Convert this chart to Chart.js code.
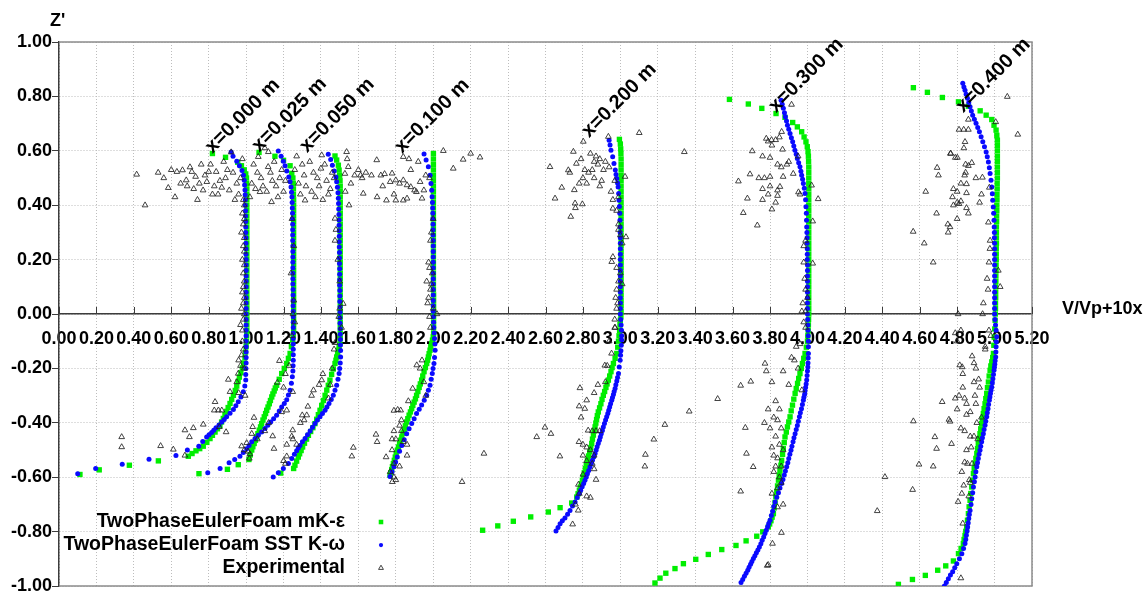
<!DOCTYPE html>
<html>
<head>
<meta charset="utf-8">
<script src="https://cdn.jsdelivr.net/npm/chart.js@4.4.1/dist/chart.umd.min.js"></script>
<style>
  html, body { margin: 0; padding: 0; background: #ffffff; }
  #wrap { width: 1143px; height: 591px; position: relative; }
</style>
</head>
<body>
<div id="wrap"><canvas id="c" width="1143" height="591"></canvas></div>
<script>
// Velocity profiles V/Vp + 10x versus Z' at seven stations.
// Each pair is [V/Vp + 10x, Z'].

const profileNames = ['x=0.000 m', 'x=0.025 m', 'x=0.050 m', 'x=0.100 m', 'x=0.200 m', 'x=0.300 m', 'x=0.400 m'];
// where each station label starts, in chart units
const profileLabelAt = [[0.82, 0.588], [1.07, 0.593], [1.326, 0.591], [1.833, 0.588], [2.833, 0.646], [3.832, 0.738], [4.832, 0.738]];

const xTicks = { min: 0, max: 5.2, step: 0.2 };
const yTicks = { min: -1, max: 1, step: 0.2 };

// ---- TwoPhaseEulerFoam mK-epsilon ----
const mkeX000 = [
[0.82,0.59],[0.89,0.576],[0.955,0.558],[0.975,0.545],[0.99,0.53],[0.998,0.515],[1.002,0.5],[1.003,0.48],
[1.004,0.46],[1.004,0.44],[1.004,0.42],[1.004,0.4],[1.004,0.38],[1.004,0.36],[1.004,0.34],[1.004,0.32],
[1.004,0.3],[1.004,0.28],[1.004,0.26],[1.004,0.24],[1.004,0.22],[1.004,0.2],[1.004,0.18],[1.004,0.16],
[1.004,0.14],[1.004,0.12],[1.004,0.1],[1.004,0.08],[1.004,0.06],[1.004,0.04],[1.004,0.02],[1.004,0],
[1.004,-0.02],[1.004,-0.04],[1.004,-0.06],[1.003,-0.08],[1.002,-0.1],[1,-0.12],[0.997,-0.14],[0.994,-0.16],
[0.987,-0.18],[0.98,-0.198],[0.972,-0.216],[0.964,-0.232],[0.957,-0.248],[0.95,-0.265],[0.942,-0.281],
[0.932,-0.299],[0.923,-0.314],[0.914,-0.329],[0.904,-0.344],[0.895,-0.358],[0.887,-0.37],[0.878,-0.384],
[0.869,-0.397],[0.86,-0.41],[0.847,-0.422],[0.834,-0.434],[0.82,-0.446],[0.807,-0.458],[0.79,-0.472],
[0.771,-0.486],[0.752,-0.495],[0.732,-0.503],[0.711,-0.513],[0.691,-0.523],[0.531,-0.54],[0.376,-0.556],
[0.215,-0.573],[0.112,-0.59]];

const mkeX025 = [
[1.069,0.594],[1.154,0.58],[1.2,0.565],[1.235,0.545],[1.244,0.517],[1.25,0.5],[1.252,0.48],
[1.253,0.46],[1.253,0.44],[1.254,0.42],[1.254,0.4],[1.254,0.38],[1.254,0.36],[1.254,0.34],[1.254,0.32],
[1.254,0.3],[1.254,0.28],[1.254,0.26],[1.254,0.24],[1.254,0.22],[1.254,0.2],[1.254,0.18],[1.254,0.16],
[1.254,0.14],[1.254,0.12],[1.254,0.1],[1.254,0.08],[1.254,0.06],[1.254,0.04],[1.254,0.02],[1.254,0],
[1.254,-0.02],[1.254,-0.04],[1.254,-0.06],[1.252,-0.08],[1.249,-0.096],[1.242,-0.12],[1.235,-0.145],
[1.226,-0.163],[1.217,-0.182],[1.204,-0.2],[1.19,-0.219],[1.177,-0.24],[1.163,-0.262],[1.156,-0.272],
[1.15,-0.283],[1.143,-0.294],[1.137,-0.305],[1.13,-0.318],[1.124,-0.33],[1.117,-0.342],[1.11,-0.354],
[1.104,-0.366],[1.097,-0.378],[1.09,-0.39],[1.083,-0.403],[1.077,-0.415],[1.07,-0.427],[1.063,-0.44],
[1.056,-0.452],[1.05,-0.464],[1.043,-0.476],[1.036,-0.488],[1.03,-0.5],[1.022,-0.518],[1.015,-0.535],
[0.958,-0.554],[0.9,-0.571],[0.748,-0.587]];

const mkeX050 = [
[1.475,0.581],[1.484,0.566],[1.493,0.547],[1.497,0.529],[1.5,0.51],[1.502,0.49],
[1.503,0.47],[1.503,0.45],[1.503,0.43],[1.503,0.41],[1.503,0.39],[1.503,0.37],[1.503,0.35],[1.503,0.33],
[1.503,0.31],[1.503,0.29],[1.503,0.27],[1.503,0.25],[1.503,0.23],[1.503,0.21],[1.503,0.19],[1.503,0.17],
[1.503,0.15],[1.503,0.13],[1.503,0.11],[1.503,0.09],[1.503,0.07],[1.503,0.05],[1.503,0.03],[1.503,0.01],
[1.503,-0.01],[1.503,-0.03],[1.503,-0.05],[1.503,-0.07],[1.503,-0.09],[1.501,-0.11],[1.497,-0.122],
[1.493,-0.133],[1.489,-0.146],[1.484,-0.158],[1.48,-0.17],[1.475,-0.182],[1.466,-0.202],[1.457,-0.222],
[1.448,-0.243],[1.439,-0.262],[1.431,-0.28],[1.422,-0.299],[1.413,-0.318],[1.404,-0.336],[1.395,-0.354],
[1.386,-0.37],[1.377,-0.387],[1.368,-0.403],[1.357,-0.418],[1.345,-0.432],[1.333,-0.446],[1.323,-0.46],
[1.312,-0.475],[1.302,-0.489],[1.294,-0.502],[1.286,-0.514],[1.279,-0.526],[1.27,-0.541],[1.261,-0.556],
[1.254,-0.568],[1.185,-0.585]];

const mkeX100 = [
[2.001,0.59],[2.001,0.57],[2.001,0.55],[2.001,0.53],[2.001,0.51],[2.001,0.49],[2.001,0.47],[2.001,0.45],
[2.001,0.43],[2.001,0.41],[2.001,0.39],[2.001,0.37],[2.001,0.35],[2.001,0.33],[2.001,0.31],[2.001,0.29],
[2.001,0.27],[2.001,0.25],[2.001,0.23],[2.001,0.21],[2.001,0.19],[2.001,0.17],[2.001,0.15],[2.001,0.13],
[2.001,0.11],[2.001,0.09],[2.002,0.07],[2.002,0.05],[2.002,0.03],[2.002,0.01],[2.002,-0.01],[2.002,-0.03],
[2.002,-0.05],[2.002,-0.07],[2,-0.084],[1.996,-0.096],[1.992,-0.108],[1.987,-0.12],[1.983,-0.133],
[1.978,-0.146],[1.974,-0.158],[1.97,-0.17],[1.965,-0.182],[1.958,-0.197],[1.951,-0.212],[1.944,-0.228],
[1.938,-0.243],[1.931,-0.257],[1.925,-0.27],[1.918,-0.285],[1.911,-0.299],[1.905,-0.312],[1.898,-0.324],
[1.891,-0.336],[1.885,-0.348],[1.878,-0.36],[1.871,-0.372],[1.864,-0.385],[1.858,-0.397],[1.851,-0.411],
[1.845,-0.425],[1.838,-0.438],[1.832,-0.452],[1.826,-0.464],[1.82,-0.476],[1.814,-0.489],[1.808,-0.501],
[1.802,-0.514],[1.797,-0.526],[1.792,-0.538],[1.787,-0.55],[1.782,-0.561],[1.778,-0.572],[1.773,-0.583],
[1.769,-0.593]];

const mkeX200 = [
[2.995,0.642],[3,0.625],[3.002,0.607],[3.003,0.59],[3.004,0.57],[3.004,0.55],[3.004,0.53],[3.004,0.51],
[3.004,0.49],[3.004,0.47],[3.004,0.45],[3.004,0.43],[3.004,0.41],[3.004,0.39],[3.004,0.37],[3.004,0.35],
[3.004,0.33],[3.004,0.31],[3.004,0.29],[3.004,0.27],[3.004,0.25],[3.004,0.23],[3.004,0.21],[3.004,0.19],
[3.004,0.17],[3.004,0.15],[3.004,0.13],[3.004,0.11],[3.004,0.09],[3.004,0.07],[3.004,0.05],[3.004,0.03],
[3.004,0.01],[3.003,-0.01],[3,-0.023],[2.998,-0.04],[2.996,-0.06],[2.993,-0.08],[2.99,-0.1],[2.986,-0.122],
[2.981,-0.145],[2.972,-0.163],[2.963,-0.182],[2.956,-0.197],[2.95,-0.212],[2.943,-0.228],[2.936,-0.243],
[2.929,-0.257],[2.923,-0.27],[2.916,-0.285],[2.909,-0.299],[2.902,-0.314],[2.896,-0.33],[2.889,-0.345],
[2.882,-0.36],[2.877,-0.374],[2.873,-0.388],[2.869,-0.401],[2.865,-0.415],[2.86,-0.43],[2.856,-0.445],
[2.851,-0.46],[2.847,-0.476],[2.842,-0.491],[2.836,-0.507],[2.83,-0.522],[2.824,-0.538],[2.818,-0.553],
[2.813,-0.568],[2.807,-0.584],[2.802,-0.599],[2.797,-0.612],[2.792,-0.624],[2.786,-0.636],[2.781,-0.648],
[2.774,-0.661],[2.767,-0.673],[2.74,-0.695],[2.678,-0.712],[2.615,-0.728],[2.521,-0.746],[2.428,-0.762],
[2.345,-0.779],[2.264,-0.795]];

const mkeX300 = [
[3.583,0.789],[3.684,0.772],[3.756,0.756],[3.832,0.737],[3.88,0.723],[3.921,0.704],[3.946,0.688],
[3.969,0.67],[3.982,0.651],[3.992,0.633],[3.999,0.615],[4.003,0.597],[4.005,0.58],[4.006,0.56],
[4.007,0.54],[4.007,0.52],[4.007,0.5],[4.007,0.48],[4.007,0.46],[4.007,0.44],[4.007,0.42],[4.007,0.4],
[4.007,0.38],[4.007,0.36],[4.007,0.34],[4.007,0.32],[4.007,0.3],[4.007,0.28],[4.007,0.26],[4.007,0.24],
[4.007,0.22],[4.007,0.2],[4.007,0.18],[4.007,0.16],[4.007,0.14],[4.007,0.12],[4.007,0.1],[4.007,0.08],
[4.007,0.06],[4.007,0.04],[4.007,0.02],[4.007,0],[4.006,-0.02],[4.005,-0.04],[4.004,-0.06],[4.002,-0.08],
[4,-0.1],[3.994,-0.122],[3.987,-0.145],[3.98,-0.163],[3.973,-0.182],[3.967,-0.2],[3.96,-0.219],
[3.953,-0.237],[3.947,-0.255],[3.94,-0.274],[3.934,-0.292],[3.927,-0.313],[3.92,-0.335],[3.913,-0.356],
[3.907,-0.378],[3.9,-0.397],[3.893,-0.415],[3.887,-0.434],[3.88,-0.452],[3.876,-0.473],[3.871,-0.495],
[3.867,-0.516],[3.862,-0.538],[3.858,-0.556],[3.853,-0.575],[3.849,-0.593],[3.845,-0.611],[3.84,-0.632],
[3.836,-0.652],[3.831,-0.672],[3.827,-0.693],[3.822,-0.713],[3.818,-0.734],[3.811,-0.747],[3.805,-0.76],
[3.798,-0.772],[3.791,-0.783],[3.761,-0.801],[3.729,-0.817],[3.672,-0.834],[3.618,-0.851],[3.542,-0.866],
[3.47,-0.884],[3.403,-0.902],[3.337,-0.918],[3.292,-0.936],[3.243,-0.953],[3.212,-0.971],[3.185,-0.989]];

const mkeX400 = [
[4.566,0.832],[4.641,0.815],[4.721,0.796],[4.807,0.78],[4.86,0.764],[4.923,0.747],[4.955,0.731],
[4.985,0.715],[4.997,0.694],[5.008,0.676],[5.012,0.657],[5.015,0.639],[5.015,0.62],[5.015,0.6],
[5.015,0.58],[5.015,0.56],[5.015,0.54],[5.015,0.52],[5.015,0.5],[5.014,0.48],[5.014,0.46],[5.013,0.44],
[5.013,0.42],[5.012,0.4],[5.012,0.38],[5.011,0.36],[5.011,0.34],[5.01,0.32],[5.01,0.3],[5.01,0.28],
[5.01,0.26],[5.009,0.24],[5.009,0.22],[5.009,0.2],[5.008,0.18],[5.008,0.16],[5.007,0.14],[5.007,0.12],
[5.006,0.1],[5.006,0.08],[5.006,0.06],[5.005,0.04],[5.005,0.02],[5.004,0],[5.003,-0.023],[5.001,-0.055],
[4.998,-0.085],[4.996,-0.115],[4.994,-0.145],[4.99,-0.16],[4.985,-0.176],[4.98,-0.191],[4.976,-0.207],
[4.971,-0.228],[4.967,-0.25],[4.962,-0.271],[4.958,-0.292],[4.953,-0.311],[4.949,-0.33],[4.944,-0.348],
[4.94,-0.366],[4.935,-0.385],[4.931,-0.403],[4.926,-0.422],[4.922,-0.44],[4.917,-0.458],[4.913,-0.476],
[4.909,-0.495],[4.905,-0.513],[4.9,-0.531],[4.896,-0.55],[4.891,-0.568],[4.887,-0.587],[4.882,-0.611],
[4.878,-0.636],[4.873,-0.66],[4.869,-0.685],[4.864,-0.709],[4.86,-0.734],[4.855,-0.758],[4.851,-0.783],
[4.846,-0.799],[4.842,-0.814],[4.837,-0.829],[4.833,-0.844],[4.821,-0.862],[4.807,-0.881],[4.78,-0.908],
[4.739,-0.926],[4.696,-0.942],[4.63,-0.961],[4.561,-0.976],[4.486,-0.994]];

// ---- TwoPhaseEulerFoam SST k-omega ----
const sstX000 = [
[0.92,0.596],[0.93,0.58],[0.95,0.562],[0.964,0.545],[0.978,0.528],[0.986,0.51],[0.99,0.492],[0.992,0.474],
[0.994,0.456],[0.995,0.438],[0.996,0.42],[0.996,0.4],[0.997,0.38],[0.997,0.36],[0.998,0.34],[0.998,0.32],
[0.998,0.3],[0.999,0.28],[0.999,0.26],[0.999,0.24],[0.999,0.22],[1,0.2],[1,0.18],[1,0.16],[1,0.14],[1,0.12],
[1,0.1],[1,0.08],[1,0.06],[1,0.04],[1,0.02],[1,0],[1,-0.02],[1,-0.04],[1,-0.06],[1,-0.08],[1,-0.1],[1,-0.12],
[1,-0.14],[1,-0.16],[1,-0.18],[0.999,-0.2],[0.998,-0.222],[0.998,-0.243],[0.993,-0.265],[0.985,-0.286],
[0.972,-0.305],[0.958,-0.323],[0.945,-0.337],[0.932,-0.351],[0.914,-0.365],[0.896,-0.378],[0.883,-0.388],
[0.87,-0.397],[0.855,-0.408],[0.839,-0.418],[0.827,-0.427],[0.816,-0.436],[0.802,-0.444],[0.789,-0.452],
[0.768,-0.469],[0.747,-0.486],[0.686,-0.5],[0.625,-0.52],[0.481,-0.534],[0.338,-0.552],[0.196,-0.568],[0.1,-0.587]];

const sstX025 = [
[1.172,0.599],[1.187,0.58],[1.199,0.562],[1.208,0.545],[1.217,0.526],[1.228,0.504],[1.235,0.486],[1.24,0.467],
[1.243,0.448],[1.245,0.43],[1.246,0.41],[1.247,0.39],[1.248,0.37],[1.248,0.35],[1.249,0.33],[1.249,0.31],
[1.249,0.29],[1.249,0.27],[1.25,0.25],[1.25,0.23],[1.25,0.21],[1.25,0.19],[1.25,0.17],[1.25,0.15],[1.25,0.13],
[1.25,0.11],[1.251,0.09],[1.251,0.07],[1.251,0.05],[1.251,0.03],[1.252,0.01],[1.252,-0.01],[1.252,-0.03],
[1.252,-0.05],[1.252,-0.07],[1.252,-0.09],[1.252,-0.11],[1.252,-0.13],[1.252,-0.15],[1.252,-0.17],
[1.251,-0.19],[1.25,-0.21],[1.247,-0.231],[1.242,-0.255],[1.235,-0.28],[1.226,-0.298],[1.217,-0.315],
[1.204,-0.329],[1.19,-0.342],[1.177,-0.357],[1.163,-0.372],[1.147,-0.385],[1.131,-0.397],[1.116,-0.409],
[1.101,-0.421],[1.083,-0.434],[1.065,-0.446],[1.048,-0.458],[1.03,-0.47],[1.016,-0.483],[1.003,-0.495],
[0.985,-0.509],[0.967,-0.523],[0.939,-0.535],[0.909,-0.547],[0.861,-0.568],[0.795,-0.584]];

const sstX050 = [
[1.439,0.587],[1.452,0.568],[1.461,0.547],[1.471,0.526],[1.48,0.504],[1.484,0.486],[1.488,0.466],[1.491,0.446],
[1.493,0.426],[1.494,0.406],[1.495,0.386],[1.496,0.366],[1.497,0.346],[1.497,0.326],[1.498,0.306],[1.498,0.286],
[1.498,0.266],[1.498,0.246],[1.499,0.226],[1.499,0.206],[1.499,0.186],[1.5,0.166],[1.5,0.146],[1.5,0.126],
[1.5,0.106],[1.501,0.086],[1.501,0.066],[1.501,0.046],[1.502,0.026],[1.502,0.006],[1.502,-0.014],[1.502,-0.034],
[1.503,-0.054],[1.503,-0.074],[1.504,-0.094],[1.504,-0.114],[1.505,-0.134],[1.505,-0.158],[1.503,-0.18],
[1.5,-0.2],[1.497,-0.219],[1.491,-0.24],[1.484,-0.262],[1.475,-0.28],[1.466,-0.299],[1.455,-0.314],
[1.443,-0.329],[1.432,-0.342],[1.422,-0.354],[1.408,-0.366],[1.395,-0.378],[1.381,-0.39],[1.368,-0.403],
[1.355,-0.416],[1.342,-0.43],[1.328,-0.444],[1.315,-0.458],[1.301,-0.47],[1.288,-0.483],[1.279,-0.493],
[1.27,-0.503],[1.258,-0.516],[1.244,-0.531],[1.226,-0.55],[1.199,-0.568],[1.172,-0.584],[1.145,-0.599]];

const sstX100 = [
[1.951,0.588],[1.962,0.566],[1.974,0.541],[1.983,0.51],[1.988,0.48],[1.992,0.455],[1.994,0.431],[1.996,0.41],
[1.997,0.39],[1.998,0.37],[1.998,0.35],[1.999,0.33],[1.999,0.31],[1.999,0.29],[2,0.27],[2,0.25],[2,0.23],
[2,0.21],[2,0.19],[2,0.17],[2,0.15],[2,0.13],[2,0.11],[2,0.09],[2,0.07],[2,0.05],[2,0.03],[2,0.01],
[2.001,-0.01],[2.002,-0.03],[2.003,-0.05],[2.005,-0.07],[2.007,-0.09],[2.009,-0.11],[2.01,-0.133],
[2.007,-0.16],[2.004,-0.182],[1.999,-0.2],[1.995,-0.219],[1.989,-0.24],[1.983,-0.262],[1.974,-0.28],
[1.965,-0.299],[1.952,-0.317],[1.938,-0.335],[1.925,-0.35],[1.911,-0.366],[1.898,-0.385],[1.885,-0.403],
[1.871,-0.422],[1.858,-0.44],[1.845,-0.462],[1.832,-0.483],[1.82,-0.505],[1.808,-0.526],[1.799,-0.544],
[1.79,-0.562],[1.78,-0.58],[1.769,-0.597]];

const sstX200 = [
[2.94,0.639],[2.945,0.621],[2.95,0.602],[2.959,0.578],[2.966,0.553],[2.973,0.529],[2.977,0.513],[2.981,0.498],
[2.985,0.482],[2.988,0.467],[2.991,0.443],[2.993,0.418],[2.995,0.395],[2.997,0.37],[2.998,0.345],[2.999,0.32],
[2.999,0.3],[3,0.28],[3,0.26],[3,0.24],[3,0.22],[3,0.2],[3,0.18],[3,0.16],[3,0.14],[3,0.12],[3,0.1],[3,0.08],
[3,0.06],[3,0.04],[3,0.02],[3,0],[3.002,-0.02],[3.004,-0.04],[3.006,-0.06],[3.007,-0.08],[3.007,-0.096],
[3.005,-0.115],[3.003,-0.135],[3.001,-0.152],[2.999,-0.17],[2.994,-0.195],[2.99,-0.219],[2.985,-0.233],
[2.981,-0.246],[2.976,-0.26],[2.972,-0.274],[2.967,-0.285],[2.963,-0.296],[2.958,-0.307],[2.954,-0.317],
[2.948,-0.33],[2.943,-0.342],[2.938,-0.354],[2.933,-0.366],[2.927,-0.378],[2.921,-0.39],[2.915,-0.403],
[2.909,-0.415],[2.904,-0.428],[2.898,-0.44],[2.893,-0.452],[2.888,-0.464],[2.882,-0.476],[2.876,-0.488],
[2.871,-0.5],[2.865,-0.513],[2.858,-0.526],[2.851,-0.538],[2.845,-0.55],[2.838,-0.562],[2.831,-0.575],
[2.824,-0.587],[2.818,-0.599],[2.811,-0.611],[2.804,-0.623],[2.796,-0.635],[2.788,-0.648],[2.781,-0.66],
[2.77,-0.675],[2.758,-0.691],[2.744,-0.706],[2.731,-0.722],[2.718,-0.736],[2.704,-0.75],[2.69,-0.76],
[2.678,-0.771],[2.667,-0.785],[2.656,-0.798]];

const sstX300 = [
[3.859,0.786],[3.865,0.771],[3.871,0.756],[3.877,0.74],[3.882,0.725],[3.888,0.71],[3.893,0.694],[3.9,0.679],
[3.907,0.664],[3.914,0.648],[3.921,0.633],[3.927,0.618],[3.933,0.602],[3.94,0.587],[3.946,0.572],[3.953,0.556],
[3.96,0.541],[3.965,0.525],[3.969,0.51],[3.974,0.495],[3.978,0.48],[3.983,0.462],[3.987,0.443],[3.99,0.42],
[3.992,0.394],[3.994,0.37],[3.995,0.345],[3.996,0.32],[3.997,0.3],[3.998,0.28],[3.998,0.26],[3.999,0.24],
[3.999,0.22],[3.999,0.2],[4,0.18],[4,0.16],[4,0.14],[4,0.12],[4,0.1],[4,0.08],[4,0.06],[4,0.04],[4,0.02],[4,0],
[4.001,-0.02],[4.002,-0.04],[4.003,-0.06],[4.004,-0.08],[4.005,-0.1],[4.005,-0.12],[4.005,-0.145],
[4.004,-0.162],[4.003,-0.18],[4.002,-0.195],[4,-0.21],[3.998,-0.226],[3.996,-0.243],[3.993,-0.257],
[3.99,-0.27],[3.987,-0.283],[3.985,-0.295],[3.981,-0.306],[3.978,-0.317],[3.973,-0.333],[3.968,-0.348],
[3.962,-0.363],[3.957,-0.378],[3.951,-0.394],[3.946,-0.41],[3.94,-0.425],[3.934,-0.44],[3.928,-0.455],
[3.923,-0.47],[3.917,-0.486],[3.912,-0.501],[3.906,-0.516],[3.9,-0.531],[3.895,-0.547],[3.889,-0.562],
[3.882,-0.577],[3.876,-0.592],[3.869,-0.608],[3.862,-0.623],[3.853,-0.64],[3.845,-0.657],[3.836,-0.674],
[3.827,-0.691],[3.82,-0.708],[3.814,-0.725],[3.807,-0.741],[3.8,-0.758],[3.793,-0.77],[3.787,-0.782],
[3.78,-0.795],[3.773,-0.807],[3.766,-0.82],[3.758,-0.832],[3.751,-0.845],[3.743,-0.857],[3.735,-0.868],
[3.727,-0.878],[3.719,-0.889],[3.711,-0.899],[3.703,-0.91],[3.696,-0.92],[3.688,-0.931],[3.681,-0.942],
[3.672,-0.953],[3.663,-0.964],[3.654,-0.976],[3.645,-0.987]];

const sstX400 = [
[4.83,0.848],[4.836,0.835],[4.842,0.823],[4.848,0.808],[4.855,0.793],[4.862,0.778],[4.869,0.762],[4.876,0.746],
[4.883,0.731],[4.892,0.716],[4.901,0.701],[4.91,0.686],[4.919,0.67],[4.928,0.652],[4.937,0.633],[4.946,0.615],
[4.955,0.596],[4.961,0.578],[4.967,0.559],[4.972,0.538],[4.976,0.517],[4.981,0.492],[4.985,0.467],[4.988,0.442],
[4.99,0.418],[4.993,0.393],[4.995,0.37],[4.997,0.345],[4.998,0.32],[4.999,0.3],[4.999,0.28],[5,0.26],[5,0.24],
[5,0.22],[5,0.2],[5,0.18],[5,0.16],[5,0.14],[5,0.12],[5,0.1],[5,0.08],[5,0.06],[5,0.04],[5,0.02],[5,0],
[5.002,-0.02],[5.005,-0.04],[5.008,-0.06],[5.011,-0.084],[5.009,-0.102],[5.008,-0.12],[5.007,-0.14],
[5.006,-0.158],[5.003,-0.172],[5.001,-0.185],[4.999,-0.196],[4.997,-0.207],[4.994,-0.222],[4.991,-0.238],
[4.988,-0.253],[4.985,-0.268],[4.981,-0.28],[4.978,-0.292],[4.975,-0.305],[4.972,-0.317],[4.968,-0.333],
[4.965,-0.348],[4.961,-0.363],[4.958,-0.378],[4.953,-0.394],[4.949,-0.409],[4.944,-0.425],[4.94,-0.44],
[4.935,-0.455],[4.931,-0.47],[4.926,-0.486],[4.922,-0.501],[4.917,-0.516],[4.913,-0.531],[4.909,-0.547],
[4.905,-0.562],[4.9,-0.58],[4.896,-0.599],[4.892,-0.617],[4.887,-0.636],[4.883,-0.657],[4.878,-0.679],
[4.874,-0.7],[4.869,-0.722],[4.865,-0.737],[4.862,-0.752],[4.859,-0.768],[4.856,-0.783],[4.853,-0.798],
[4.849,-0.813],[4.846,-0.829],[4.842,-0.844],[4.834,-0.862],[4.825,-0.881],[4.812,-0.9],[4.798,-0.918],
[4.787,-0.933],[4.776,-0.948],[4.764,-0.96],[4.753,-0.973],[4.742,-0.987],[4.732,-1]];

// ---- Experimental ----
const expX000 = [
[0.415,0.513],[0.46,0.4],[0.53,0.52],[0.56,0.5],[0.584,0.464],[0.6,0.53],[0.62,0.43],[0.63,0.523],[0.65,0.48],
[0.66,0.529],[0.68,0.492],[0.685,0.47],[0.7,0.54],[0.71,0.523],[0.72,0.46],[0.73,0.505],[0.74,0.42],[0.75,0.48],
[0.76,0.55],[0.77,0.455],[0.78,0.51],[0.79,0.486],[0.8,0.523],[0.81,0.55],[0.82,0.44],[0.83,0.47],[0.84,0.523],
[0.85,0.44],[0.86,0.49],[0.87,0.465],[0.88,0.56],[0.89,0.5],[0.9,0.53],[0.91,0.455],[0.93,0.52],[0.94,0.42],
[0.95,0.48],[0.96,0.44],[0.97,0.5],[0.98,0.57],[0.92,0.595],
[0.985,0.42],[0.99,0.4],[0.98,0.37],[0.99,0.35],[0.985,0.33],[0.975,0.3],[0.99,0.28],[0.985,0.25],[0.99,0.23],
[0.98,0.2],[0.99,0.18],[0.985,0.15],[0.99,0.12],[0.985,0.1],[0.98,0.08],[0.99,0.06],[0.985,0.04],[0.975,0.02],
[0.99,0],[0.985,-0.02],[0.97,-0.04],[0.98,-0.06],
[0.98,-0.1],[0.976,-0.151],[0.985,-0.13],[0.96,-0.17],[0.97,-0.19],[0.958,-0.219],[0.95,-0.25],[0.905,-0.241],
[0.914,-0.286],[0.96,-0.29],[0.834,-0.323],[0.852,-0.354],[0.83,-0.354],[0.87,-0.354],[0.893,-0.434],
[0.857,-0.415],[0.771,-0.406],[0.718,-0.419],[0.673,-0.427],[0.697,-0.452],[0.543,-0.485],[0.611,-0.498],
[0.673,-0.52],[0.335,-0.452],[0.335,-0.489],[0.995,-0.3],[0.99,-0.2]];

const expX025 = [
[1.065,0.578],[1.119,0.596],[1.04,0.55],[1.06,0.52],[1.08,0.5],[1.09,0.47],[1.1,0.61],[1.11,0.45],[1.118,0.541],
[1.13,0.52],[1.136,0.412],[1.14,0.49],[1.15,0.56],[1.16,0.47],[1.17,0.43],[1.18,0.5],[1.19,0.53],[1.2,0.45],
[1.21,0.49],[1.074,0.449],[1.05,0.46],[1.03,0.48],[1.02,0.43],[1.26,0.53],[1.28,0.48],[1.29,0.44],[1.3,0.55],
[1.31,0.51],[1.32,0.47],[1.27,0.58],
[1.245,0.35],[1.255,0.25],[1.24,0.15],[1.255,0.05],[1.25,0],[1.26,-0.03],[1.245,-0.08],
[1.178,-0.172],[1.167,-0.252],[1.2,-0.27],[1.249,-0.286],[1.217,-0.354],[1.19,-0.36],[1.042,-0.381],
[1.035,-0.415],[1.03,-0.44],[1.142,-0.449],[1.149,-0.495],[0.976,-0.486],[0.99,-0.5],[1.01,-0.505],
[1.02,-0.515],[1.017,-0.531],[1.003,-0.474],[1.06,-0.46],[1.1,-0.43],[1.12,-0.4],[1.21,-0.22],[1.23,-0.19]];

const expX050 = [
[1.404,0.584],[1.537,0.596],[1.54,0.57],[1.546,0.541],[1.698,0.566],[1.36,0.52],[1.38,0.5],[1.4,0.535],
[1.42,0.55],[1.43,0.49],[1.45,0.46],[1.46,0.52],[1.44,0.44],[1.315,0.418],[1.35,0.45],[1.37,0.43],[1.39,0.47],
[1.41,0.42],[1.47,0.5],[1.528,0.516],[1.56,0.48],[1.58,0.51],[1.6,0.53],[1.62,0.5],[1.64,0.52],[1.53,0.45],
[1.34,0.56],[1.55,0.4],
[1.475,0.351],[1.48,0.31],[1.475,0.27],[1.49,0.2],[1.5,0.12],[1.519,0.038],[1.5,0.02],[1.495,-0.01],[1.51,-0.05],
[1.475,-0.106],[1.47,-0.13],[1.46,-0.2],[1.404,-0.243],[1.41,-0.22],[1.39,-0.26],[1.45,-0.26],[1.35,-0.3],
[1.33,-0.34],[1.324,-0.372],[1.3,-0.372],[1.31,-0.39],[1.29,-0.4],[1.249,-0.427],[1.244,-0.45],[1.25,-0.46],
[1.27,-0.48],[1.217,-0.523],[1.2,-0.54],[1.21,-0.55],[1.217,-0.48],[1.573,-0.491],[1.565,-0.523],[1.44,-0.31],
[1.36,-0.28]];

const expX100 = [
[1.612,0.51],[1.626,0.443],[1.67,0.51],[1.72,0.51],[1.74,0.515],[1.78,0.517],[1.77,0.486],[1.8,0.492],
[1.82,0.48],[1.84,0.492],[1.86,0.474],[1.88,0.467],[1.9,0.455],[1.91,0.449],[1.93,0.486],[1.95,0.455],
[1.88,0.53],[1.84,0.578],[1.87,0.57],[1.92,0.56],[1.7,0.43],[1.75,0.418],[1.8,0.418],[1.84,0.418],[1.86,0.425],
[1.94,0.425],[1.98,0.5],[1.96,0.51],[2.054,0.6],[2.107,0.535],[2.16,0.568],[2.25,0.576],[2.2,0.59],[1.73,0.47],
[1.79,0.44],
[1.975,0.19],[1.98,0.17],[1.995,0.15],[1.965,0.12],[1.99,0.11],[1.985,0.09],[1.975,0.06],[1.97,0.04],[2,0.02],
[1.98,-0.01],[1.985,-0.05],[2.02,0],[1.99,0.3],[2,0.35],[1.985,0.27],
[1.912,-0.188],[1.93,-0.2],[1.95,-0.25],[1.96,-0.3],[1.89,-0.274],[1.867,-0.32],[1.826,-0.354],[1.81,-0.352],
[1.79,-0.355],[1.83,-0.39],[1.82,-0.41],[1.83,-0.43],[1.79,-0.43],[1.8,-0.46],[1.78,-0.46],[1.694,-0.443],
[1.7,-0.47],[1.84,-0.47],[1.86,-0.48],[1.78,-0.5],[1.86,-0.52],[1.748,-0.526],[1.82,-0.56],[1.79,-0.55],
[1.77,-0.58],[1.781,-0.617],[1.8,-0.61],[1.79,-0.6],[2.154,-0.617],[1.94,-0.17]];

const expX200 = [
[2.624,0.541],[2.651,0.425],[2.687,0.465],[2.722,0.529],[2.73,0.52],[2.735,0.358],[2.749,0.597],[2.754,0.456],
[2.758,0.407],[2.76,0.39],[2.765,0.553],[2.78,0.48],[2.79,0.57],[2.797,0.404],[2.802,0.634],[2.8,0.5],
[2.81,0.53],[2.82,0.48],[2.83,0.52],[2.84,0.59],[2.85,0.53],[2.86,0.56],[2.86,0.5],[2.87,0.58],[2.88,0.55],
[2.89,0.57],[2.89,0.47],[2.9,0.49],[2.91,0.53],[2.92,0.56],[2.936,0.652],[2.94,0.54],[2.95,0.45],[2.96,0.388],
[2.96,0.42],[2.97,0.49],[2.98,0.38],[2.99,0.43],[3.025,0.505],[3.101,0.666],[3.342,0.596],
[2.99,0.33],[2.99,0.31],[3,0.29],[3.03,0.283],[3.01,0.26],[2.954,0.192],[2.96,0.21],[2.98,0.17],[3,0.15],
[2.99,0.12],[3.01,0.11],[2.98,0.09],[2.975,0.06],[2.985,0.04],[2.98,0.02],[2.97,-0.02],[2.972,-0.05],
[2.953,-0.145],[2.94,-0.1],[2.97,-0.05],[2.917,-0.189],[2.93,-0.19],[2.92,-0.25],[2.88,-0.26],[2.86,-0.29],
[2.82,-0.317],[2.784,-0.272],[2.78,-0.339],[2.81,-0.348],[2.79,-0.38],[2.828,-0.428],[2.85,-0.43],[2.87,-0.43],
[2.89,-0.43],[2.779,-0.47],[2.8,-0.48],[2.82,-0.49],[2.84,-0.5],[2.86,-0.52],[2.8,-0.52],[2.82,-0.54],
[2.85,-0.55],[2.86,-0.57],[2.87,-0.609],[2.8,-0.59],[2.776,-0.627],[2.78,-0.66],[2.82,-0.67],[2.84,-0.675],
[2.76,-0.7],[2.775,-0.722],[2.745,-0.773],[2.271,-0.513],[2.553,-0.452],[2.597,-0.417],[2.629,-0.44],
[2.677,-0.523],[3.131,-0.56],[3.134,-0.517],[3.179,-0.461],[3.238,-0.407],[3.368,-0.358],[3.52,-0.312]];

const expX300 = [
[3.915,0.77],[3.862,0.67],[3.85,0.65],[3.808,0.64],[3.79,0.635],[3.78,0.645],[3.83,0.64],[3.81,0.62],
[3.867,0.605],[3.705,0.599],[3.76,0.58],[3.8,0.575],[3.84,0.55],[3.86,0.54],[3.9,0.56],[3.89,0.55],
[3.924,0.516],[3.95,0.58],[3.693,0.514],[3.631,0.488],[3.74,0.5],[3.77,0.5],[3.8,0.505],[3.87,0.505],
[3.8,0.47],[3.853,0.468],[3.84,0.455],[3.76,0.46],[3.679,0.425],[3.76,0.42],[3.79,0.44],[3.83,0.41],
[3.84,0.435],[3.952,0.448],[3.96,0.44],[3.81,0.385],[3.657,0.372],[3.732,0.326],[4.022,0.473],[4.057,0.423],
[4.028,0.341],[3.99,0.27],
[3.98,0.25],[4.028,0.186],[3.98,0.19],[3.985,0.13],[3.99,0.09],[3.975,0.04],[3.97,0.01],[3.99,0.01],[4,0.06],
[3.773,-0.182],[3.78,-0.21],[3.643,-0.263],[3.697,-0.248],[3.81,-0.25],[3.83,-0.32],[3.85,-0.35],[3.79,-0.35],
[3.82,-0.38],[3.84,-0.39],[3.77,-0.4],[3.8,-0.42],[3.86,-0.42],[3.83,-0.45],[3.85,-0.48],[3.81,-0.49],
[3.87,-0.5],[3.82,-0.52],[3.84,-0.53],[3.86,-0.56],[3.83,-0.56],[3.85,-0.6],[3.82,-0.58],[3.86,-0.62],
[3.84,-0.64],[3.81,-0.66],[3.87,-0.7],[3.84,-0.71],[3.861,-0.804],[3.813,-0.844],[3.79,-0.922],[3.785,-0.925],
[3.668,-0.418],[3.674,-0.513],[3.71,-0.562],[3.643,-0.652],[3.87,-0.21],[3.9,-0.26],[3.915,-0.16],[3.93,-0.17],
[3.95,-0.2],[3.96,-0.11],[3.94,-0.12],[3.99,-0.05],[3.98,-0.03],[3.97,-0.28]];

const expX400 = [
[5.068,0.799],[5.124,0.66],[5.006,0.706],[4.81,0.678],[4.835,0.678],[4.86,0.678],[4.86,0.715],[4.842,0.633],
[4.836,0.61],[4.766,0.59],[4.801,0.575],[4.845,0.55],[4.86,0.545],[4.878,0.556],[4.845,0.52],[4.84,0.51],
[4.9,0.5],[4.935,0.502],[4.82,0.48],[4.85,0.478],[4.972,0.465],[4.8,0.45],[4.85,0.445],[4.93,0.44],[4.8,0.41],
[4.81,0.405],[4.92,0.41],[4.85,0.39],[4.86,0.37],[4.8,0.35],[4.762,0.32],[4.967,0.337],[4.565,0.303],
[4.624,0.26],[4.672,0.19],[4.69,0.37],[4.75,0.33],[4.752,0.3],[4.764,0.59],[4.79,0.575],[4.693,0.538],[4.7,0.51],
[4.632,0.45],[4.78,0.46],[4.775,0.43],[4.78,0.4],[4.82,0.415],
[4.976,0.27],[4.975,0.24],[4.97,0.19],[4.96,0.13],[4.965,0.09],[4.936,0],[4.805,0],[5.02,0.16],[5.03,0.1],
[4.94,0.04],
[4.373,-0.724],[4.414,-0.599],[4.562,-0.646],[4.566,-0.394],[4.596,-0.553],[4.672,-0.56],[4.681,-0.452],
[4.69,-0.495],[4.72,-0.323],[4.756,-0.388],[4.762,-0.395],[4.77,-0.477],[4.79,-0.31],[4.8,-0.35],[4.81,-0.3],
[4.814,-0.188],[4.827,-0.195],[4.83,-0.27],[4.83,-0.22],[4.84,-0.31],[4.85,-0.33],[4.85,-0.37],[4.87,-0.36],
[4.82,-0.42],[4.84,-0.43],[4.87,-0.45],[4.89,-0.45],[4.85,-0.5],[4.875,-0.49],[4.91,-0.46],[4.84,-0.545],
[4.855,-0.55],[4.88,-0.55],[4.825,-0.58],[4.865,-0.61],[4.87,-0.62],[4.835,-0.63],[4.825,-0.66],[4.862,-0.67],
[4.805,-0.69],[4.83,-0.77],[4.82,-0.971],[4.88,-0.155],[4.89,-0.18],[4.9,-0.2],[4.915,-0.24],[4.92,-0.27],
[4.89,-0.25],[4.895,-0.3],[4.9,-0.33],[4.905,-0.4],[4.93,-0.38],[4.82,-0.06],[4.79,-0.07],[4.8,-0.1],
[4.95,-0.13],[4.95,-0.12],[4.98,-0.08],[4.97,-0.06]];

const mkeProfiles = [mkeX000, mkeX025, mkeX050, mkeX100, mkeX200, mkeX300, mkeX400];
const sstProfiles = [sstX000, sstX025, sstX050, sstX100, sstX200, sstX300, sstX400];
const expProfiles = [expX000, expX025, expX050, expX100, expX200, expX300, expX400];

const FONT = '"Liberation Sans", Arial, Helvetica, sans-serif';
const toPoints = profiles => profiles.flat().map(([v, z]) => ({ x: v, y: z }));
const fmt = v => (Math.abs(v) < 1e-9 ? '0.00' : Number(v).toFixed(2));

const seriesStyle = [
  { label: 'TwoPhaseEulerFoam mK-\u03b5', pointStyle: 'rect', radius: 3.8, fill: '#00ee00', stroke: '#00ee00', width: 0 },
  { label: 'TwoPhaseEulerFoam SST K-\u03c9', pointStyle: 'circle', radius: 2.5, fill: '#0a0aff', stroke: '#0a0aff', width: 0 },
  { label: 'Experimental', pointStyle: 'triangle', radius: 3.3, fill: 'rgba(0,0,0,0)', stroke: '#222222', width: 0.85 }
];

const decorations = {
  id: 'decorations',
  beforeDatasetsDraw(chart) {
    const { ctx, chartArea: a, scales: { x, y } } = chart;
    ctx.save();
    // frame on top, right and bottom
    ctx.strokeStyle = '#8c8c8c';
    ctx.lineWidth = 1.5;
    ctx.beginPath();
    ctx.moveTo(a.left, a.top);
    ctx.lineTo(a.right, a.top);
    ctx.lineTo(a.right, a.bottom);
    ctx.lineTo(a.left, a.bottom);
    ctx.stroke();
    // tick marks standing on the zero line
    const y0 = y.getPixelForValue(0);
    ctx.strokeStyle = '#3c3c3c';
    ctx.lineWidth = 1;
    ctx.beginPath();
    x.ticks.forEach(t => {
      const px = Math.round(x.getPixelForValue(t.value)) + 0.5;
      ctx.moveTo(px, y0 - 7);
      ctx.lineTo(px, y0);
    });
    ctx.stroke();
    ctx.restore();
  },
  afterDraw(chart) {
    const { ctx, scales: { x, y } } = chart;
    ctx.save();
    ctx.fillStyle = '#000';

    // axis titles
    ctx.font = 'bold 18px ' + FONT;
    ctx.textAlign = 'left';
    ctx.textBaseline = 'middle';
    ctx.fillText("Z'", 50, 21);
    ctx.fillText('V/Vp+10x', 1062, 309);

    // station labels
    ctx.font = 'bold 20px ' + FONT;
    ctx.textBaseline = 'alphabetic';
    profileNames.forEach((name, i) => {
      const [v, z] = profileLabelAt[i];
      ctx.save();
      ctx.translate(x.getPixelForValue(v), y.getPixelForValue(z));
      ctx.rotate(-Math.PI / 4);
      ctx.fillText(name, 0, 0);
      ctx.restore();
    });

    // legend
    ctx.font = 'bold 19.5px ' + FONT;
    ctx.textAlign = 'right';
    ctx.textBaseline = 'middle';
    const rows = [522, 545, 568];
    seriesStyle.forEach((s, i) => {
      ctx.fillStyle = '#000';
      ctx.fillText(s.label, 345, rows[i]);
      ctx.fillStyle = s.fill;
      ctx.strokeStyle = s.stroke;
      ctx.lineWidth = s.width;
      Chart.helpers.drawPoint(ctx, { pointStyle: s.pointStyle, radius: s.radius * 0.85, borderWidth: s.width, rotation: 0 }, 381, rows[i]);
    });
    ctx.restore();
  }
};

const tickFont = { family: FONT, size: 18, weight: 'bold' };

new Chart(document.getElementById('c'), {
  type: 'scatter',
  data: {
    datasets: [mkeProfiles, sstProfiles, expProfiles].map((profiles, i) => ({
      label: seriesStyle[i].label,
      data: toPoints(profiles),
      pointStyle: seriesStyle[i].pointStyle,
      pointRadius: seriesStyle[i].radius,
      backgroundColor: seriesStyle[i].fill,
      borderColor: seriesStyle[i].stroke,
      borderWidth: seriesStyle[i].width,
      order: 2 - i
    }))
  },
  options: {
    responsive: false,
    animation: false,
    events: [],
    layout: { padding: { left: 0, top: 42, right: 111, bottom: 5 } },
    plugins: { legend: { display: false }, tooltip: { enabled: false } },
    scales: {
      x: {
        type: 'linear',
        position: { y: 0 },
        min: xTicks.min,
        max: xTicks.max,
        ticks: { stepSize: xTicks.step, callback: fmt, font: tickFont, color: '#000', padding: 14, autoSkip: false, maxRotation: 0, minRotation: 0 },
        grid: { color: '#bdbdbd', lineWidth: 1, drawTicks: false },
        border: { display: true, color: '#3c3c3c', width: 1.5, dash: [1, 2] }
      },
      y: {
        type: 'linear',
        min: yTicks.min,
        max: yTicks.max,
        ticks: { stepSize: yTicks.step, callback: fmt, font: tickFont, color: '#000', padding: 0 },
        grid: { color: '#bdbdbd', lineWidth: 1, tickLength: 7, tickColor: '#3c3c3c', tickWidth: 1, tickBorderDash: [] },
        border: { display: true, color: '#3c3c3c', width: 1.5, dash: [1, 2] },
        afterFit(scale) {
          scale.width = 59;
          scale.paddingTop = 0;
          scale.paddingBottom = 0;
        }
      }
    }
  },
  plugins: [decorations]
});
</script>
</body>
</html>
